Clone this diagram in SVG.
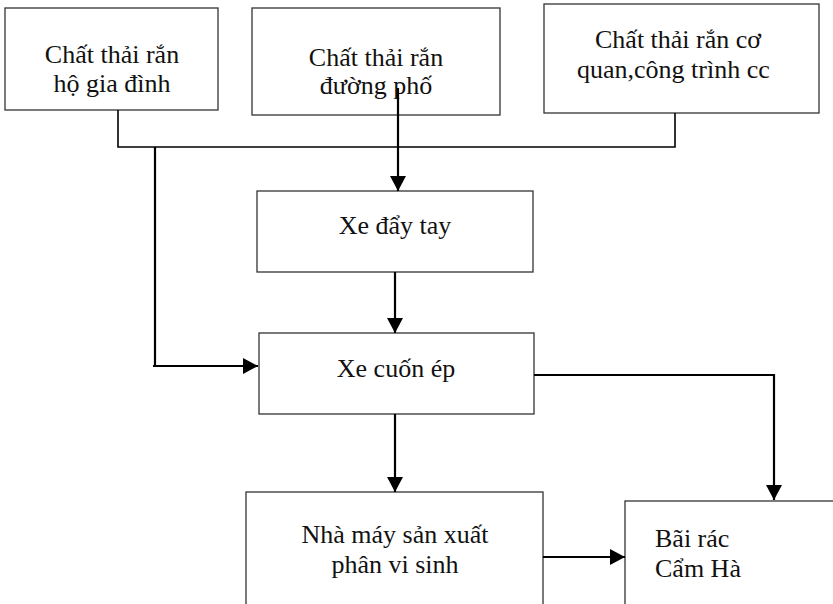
<svg xmlns="http://www.w3.org/2000/svg" width="833" height="604" viewBox="0 0 833 604">
<style>
.box{fill:#fff;stroke:#333;stroke-width:1.3}
.t{font-family:"Liberation Serif","Times New Roman",serif;font-size:26px;fill:#111}
.c{text-anchor:middle}
.ln{fill:none;stroke:#000;stroke-width:1.6}
.ar{fill:none;stroke:#000;stroke-width:2.2}
</style>
<defs>
<marker id="ah" markerUnits="userSpaceOnUse" markerWidth="16" markerHeight="16" viewBox="0 0 16 16" refX="15" refY="8" orient="auto">
<path d="M0,0 L15,8 L0,16 Z" fill="#000"/>
</marker>
</defs>
<rect width="833" height="604" fill="#fff"/>
<g id="n1"><rect class="box" x="5" y="8" width="213" height="102"/>
<text class="t c" x="112" y="63">Chất thải rắn</text><text class="t c" x="112" y="92">hộ gia đình</text></g>
<g id="n2"><rect class="box" x="252" y="8" width="248" height="107"/>
<text class="t c" x="376" y="66">Chất thải rắn</text><text class="t c" x="376" y="94">đường phố</text></g>
<g id="n3"><rect class="box" x="544" y="4" width="275" height="109"/>
<text class="t" x="595" y="48">Chất thải rắn cơ</text><text class="t" x="577" y="78">quan,công trình cc</text></g>
<g id="n4"><rect class="box" x="257" y="191" width="276" height="81"/>
<text class="t c" x="395" y="234">Xe đẩy tay</text></g>
<g id="n5"><rect class="box" x="259" y="333" width="275" height="81"/>
<text class="t c" x="396" y="377">Xe cuốn ép</text></g>
<g id="n6"><rect class="box" x="246" y="492" width="297" height="130"/>
<text class="t c" x="395" y="543">Nhà máy sản xuất</text><text class="t c" x="395" y="573">phân vi sinh</text></g>
<g id="n7"><rect class="box" x="625" y="501" width="220" height="130"/>
<text class="t" x="655" y="547">Bãi rác</text><text class="t" x="655" y="577">Cẩm Hà</text></g>
<g id="connectors">
<path class="ln" d="M118,110 V147 H675 V113"/>
<path class="ar" d="M398,88 V191" marker-end="url(#ah)"/>
<path class="ar" d="M155,147 V366 M153,366 H258" marker-end="url(#ah)"/>
<path class="ar" d="M395,272 V333" marker-end="url(#ah)"/>
<path class="ar" d="M395,414 V492" marker-end="url(#ah)"/>
<path class="ar" d="M534,375 H774 V500" marker-end="url(#ah)"/>
<path class="ar" d="M543,557 H625" marker-end="url(#ah)"/>
</g>
</svg>
